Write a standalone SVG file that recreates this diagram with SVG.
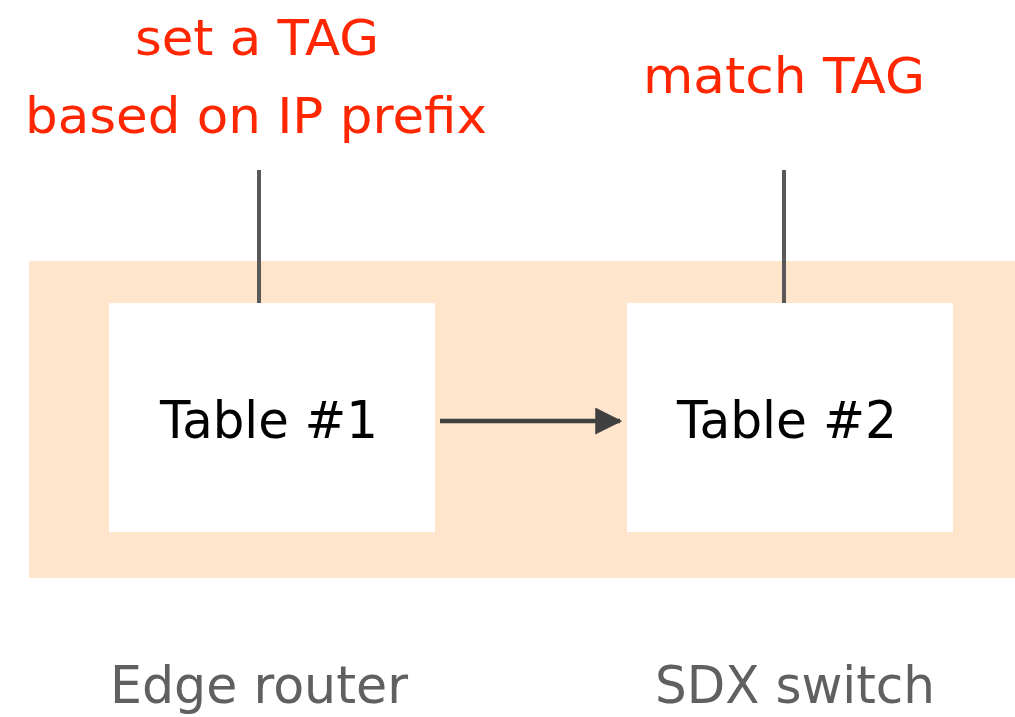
<svg xmlns="http://www.w3.org/2000/svg" width="1015" height="717" viewBox="0 0 1015 717">
  <style>
    .tbl { fill: #ffffff; }
    .lbl { font-family: "DejaVu Sans", "Liberation Sans", sans-serif; text-anchor: middle; }
    .note { fill: #ff2600; font-size: 49px; }
    .name { fill: #000000; font-size: 51px; }
    .dev { fill: #606060; font-size: 51px; }
    .stem { stroke: #595959; stroke-width: 4; fill: none; }
  </style>
  <defs>
    <marker id="head" markerWidth="6" markerHeight="6" refX="5.5" refY="3" orient="auto" markerUnits="strokeWidth">
      <path d="M0,0 L6,3 L0,6 Z" fill="#404040"/>
    </marker>
  </defs>

  <!-- shared backdrop behind both tables -->
  <rect x="29" y="261" width="986" height="317" fill="#ffe5cc"/>

  <g id="table1">
    <rect class="tbl" x="109" y="303" width="326" height="229"/>
    <text class="lbl name" x="269" y="438" textLength="218" lengthAdjust="spacingAndGlyphs">Table #1</text>
  </g>
  <g id="table2">
    <rect class="tbl" x="627" y="303" width="326" height="229"/>
    <text class="lbl name" x="787" y="438" textLength="220" lengthAdjust="spacingAndGlyphs">Table #2</text>
  </g>

  <g id="note1">
    <text class="lbl note" x="257" y="55" textLength="244" lengthAdjust="spacingAndGlyphs">set a TAG</text>
    <text class="lbl note" x="256" y="133" textLength="462" lengthAdjust="spacingAndGlyphs">based on IP prefix</text>
  </g>
  <g id="note2">
    <text class="lbl note" x="784" y="93" textLength="282" lengthAdjust="spacingAndGlyphs">match TAG</text>
  </g>

  <g id="device1">
    <text class="lbl dev" x="259" y="703" textLength="298" lengthAdjust="spacingAndGlyphs">Edge router</text>
  </g>
  <g id="device2">
    <text class="lbl dev" x="795" y="703" textLength="280" lengthAdjust="spacingAndGlyphs">SDX switch</text>
  </g>

  <g id="connectors">
    <line class="stem" x1="259" y1="170" x2="259" y2="303"/>
    <line class="stem" x1="784" y1="170" x2="784" y2="303"/>
    <line x1="440" y1="421" x2="620" y2="421" stroke="#404040" stroke-width="4.5" marker-end="url(#head)"/>
  </g>
</svg>
